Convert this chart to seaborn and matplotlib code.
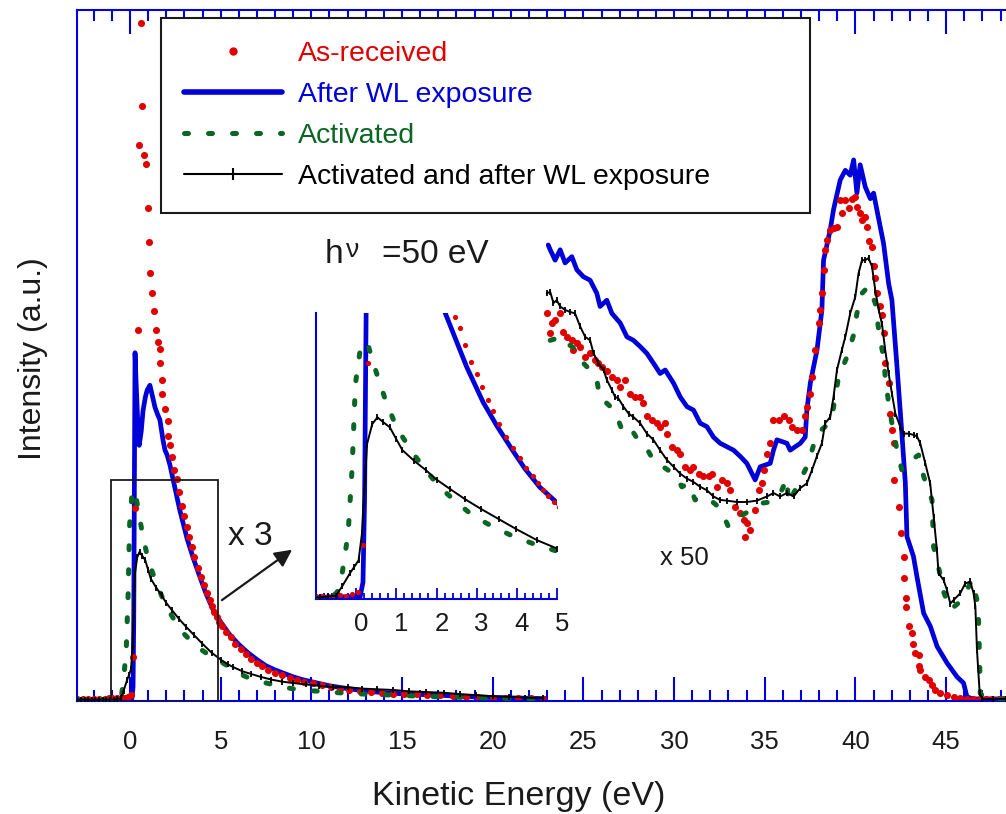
import numpy as np
import pandas as pd
import seaborn as sns
import matplotlib.pyplot as plt
from matplotlib.lines import Line2D
from matplotlib.patches import Rectangle
from matplotlib.ticker import MultipleLocator
from matplotlib.transforms import ScaledTranslation

# Kinetic energy (eV) and intensity (a.u., main-axis scale, 0-100)
# low-energy part, drawn as measured
red_lo_x = [-2.9, -2.6, -2.3, -2.0, -1.7, -1.4, -1.15, -1.0, -0.85, -0.7,
            -0.55, -0.4, -0.25, -0.1, 0.05, 0.17, 0.3, 0.44, 0.5, 0.59,
            0.65, 0.8, 0.9, 0.99, 1.05, 1.12, 1.22, 1.32, 1.43, 1.55,
            1.65, 1.66, 1.77, 1.78, 1.93, 2.08, 2.1, 2.2, 2.32, 2.45,
            2.58, 2.72, 2.87, 3.0, 3.13, 3.27, 3.4, 3.55, 3.74, 3.9,
            4.07, 4.24, 4.4, 4.52, 4.64, 4.78, 4.92, 5.06, 5.3, 5.55,
            5.8, 6.1, 6.4, 6.7, 7.0, 7.3, 7.6, 8.0, 8.4, 8.8,
            9.2, 9.6, 10.1, 10.6, 11.1, 11.6, 12.1, 12.7, 13.3, 13.9,
            14.5, 15.1, 15.8, 16.4, 17.1, 17.8, 18.5, 19.2, 20.0, 20.7,
            21.4, 22.1, 22.8]
red_lo_y = [0.3, 0.3, 0.3, 0.3, 0.3, 0.3, 0.4, 0.4, 0.3, 0.4,
            0.3, 0.5, 0.4, 0.6, 0.8, 6.4, 28, 53.7, 80.5, 98.1,
            86.1, 79, 77.7, 71.3, 66.4, 62, 59, 56.5, 53.7, 52,
            51, 48.9, 46.5, 44.4, 42.3, 40.5, 38.4, 37, 35.3, 33.5,
            32.2, 30.2, 28.2, 26.8, 25.2, 23.7, 22.3, 20.8, 19.2, 18,
            16.8, 15.6, 14.6, 13.8, 12.9, 12.2, 11.5, 10.9, 10.0, 9.2,
            8.3, 7.5, 6.8, 6.1, 5.5, 5.0, 4.5, 4.1, 3.7, 3.3,
            3.0, 2.8, 2.6, 2.3, 2.0, 1.8, 1.6, 1.4, 1.25, 1.15,
            1.05, 1.0, 0.95, 0.9, 0.8, 0.7, 0.62, 0.55, 0.45, 0.42,
            0.4, 0.37, 0.35]

blue_lo_x = [-2.9, -1.0, 0.1, 0.17, 0.21, 0.25, 0.28, 0.34, 0.42, 0.51,
             0.62, 0.72, 0.85, 0.95, 1.1, 1.25, 1.38, 1.52, 1.65, 1.82,
             1.93, 2.05, 2.2, 2.45, 2.75, 3.16, 3.5, 3.89, 4.2, 4.57,
             5.01, 5.5, 6.0, 6.5, 7.0, 7.5, 8.0, 8.5, 9.0, 9.5,
             10.0, 11.0, 12.0, 13.0, 14.0, 15.0, 16.0, 17.0, 18.0, 19.0,
             20.0, 21.0, 22.0, 22.9]
blue_lo_y = [0.2, 0.2, 0.3, 2.0, 12, 35, 50.4, 46, 41, 37,
             39, 42, 44, 45, 45.7, 44, 42.5, 41.5, 40.7, 37.8,
             36.3, 35.6, 34.2, 31.2, 27.6, 23.4, 20.6, 17.7, 15.5, 13.3,
             11.4, 9.6, 8.2, 7.0, 6.0, 5.1, 4.5, 4.0, 3.5, 3.1,
             2.8, 2.2, 1.8, 1.45, 1.2, 1.05, 0.95, 0.85, 0.7, 0.6,
             0.5, 0.45, 0.4, 0.35]

green_lo_x = [-2.9, -1.0, -0.6, -0.47, -0.35, -0.2, -0.1, -0.02, 0.1, 0.27,
              0.4, 0.55, 0.72, 0.92, 1.15, 1.42, 1.75, 2.08, 2.5, 2.91,
              3.4, 3.89, 4.45, 5.06, 5.5, 5.9, 6.5, 7.2, 8.0, 8.7,
              9.4, 10.5, 11.5, 12.5, 13.5, 14.5, 15.5, 16.5, 17.5, 18.5,
              19.5, 20.5, 21.5, 22.8]
green_lo_y = [0.2, 0.2, 0.3, 0.8, 3.0, 7.8, 15.6, 25.5, 29.6, 30.6,
              28.5, 26.2, 23.8, 21.4, 19.3, 17.3, 15.2, 13.3, 11.5, 9.9,
              8.6, 7.5, 6.5, 5.6, 4.9, 4.1, 3.4, 2.8, 2.3, 1.9,
              1.6, 1.4, 1.2, 1.05, 0.95, 0.85, 0.75, 0.65, 0.6, 0.5,
              0.45, 0.4, 0.35, 0.3]

black_lo_x = [-2.9, -2.7, -2.5, -2.3, -2.1, -1.9, -1.7, -1.5, -1.3, -1.1,
              -0.9, -0.7, -0.5, -0.35, -0.15, -0.05, 0.06, 0.145, 0.2, 0.27,
              0.4, 0.53, 0.68, 0.84, 1.0, 1.15, 1.45, 1.74, 2.0, 2.33,
              2.7, 3.11, 3.55, 3.99, 4.5, 5.0, 5.4, 5.7, 6.2, 6.7,
              7.2, 7.8, 8.4, 9.0, 9.7, 10.4, 11.2, 12.0, 12.8, 13.6,
              14.5, 15.4, 16.3, 17.3, 18.2, 19.1, 20.0, 20.9, 21.8, 22.8]
black_lo_y = [0.2, 0.2, 0.2, 0.2, 0.2, 0.2, 0.2, 0.2, 0.2, 0.2,
              0.2, 0.3, 0.4, 1.5, 3.1, 3.8, 4.6, 7.8, 12.5, 18.4,
              20.8, 21.6, 21.0, 20.4, 19.0, 17.7, 16.4, 15.3, 14.2, 13.1,
              11.9, 10.7, 9.5, 8.3, 7.0, 6.0, 5.3, 4.9, 4.3, 3.9,
              3.5, 3.1, 2.8, 2.6, 2.4, 2.2, 2.0, 2.0, 1.8, 1.7,
              1.6, 1.4, 1.3, 1.2, 1.0, 0.85, 0.7, 0.6, 0.5, 0.4]

# high-energy part, shown magnified x 50
blue_hi_x = [23.06, 23.17, 23.44, 23.72, 23.99, 24.36, 24.64, 25.0, 25.37, 25.74,
             25.92, 26.29, 26.57, 27.03, 27.4, 27.76, 28.13, 28.5, 28.86, 29.23,
             29.51, 29.97, 30.34, 30.71, 31.07, 31.44, 31.81, 32.17, 32.54, 32.91,
             33.28, 33.65, 34.01, 34.47, 34.75, 35.3, 35.48, 35.67, 36.22, 36.4,
             36.96, 37.23, 37.32, 37.51, 37.88, 38.15, 38.24, 38.61, 38.79, 39.16,
             39.44, 39.71, 39.9, 40.08, 40.26, 40.54, 40.82, 41.0, 41.18, 41.55,
             41.83, 42.01, 42.29, 42.56, 42.75, 42.84, 43.2, 43.39, 43.76, 44.13,
             44.5, 45.05, 45.6, 45.96, 46.15, 46.5, 47.5, 48.3]
blue_hi_y = [66.0, 65.3, 63.8, 65.3, 63.4, 64.3, 62.4, 61.4, 60.9, 59.0,
             57.1, 58.0, 56.1, 54.7, 52.7, 52.2, 51.3, 50.3, 48.9, 47.4,
             47.9, 46.0, 44.0, 42.6, 42.1, 40.2, 39.7, 38.2, 37.3, 36.8,
             36.3, 35.4, 34.4, 32.0, 33.9, 34.4, 36.3, 37.8, 37.3, 36.3,
             37.3, 38.2, 42.1, 46.0, 50.8, 56.6, 63.8, 68.2, 71.1, 75.4,
             76.8, 76.1, 78.3, 73.5, 77.6, 74.4, 72.7, 73.5, 71.1, 66.2,
             60.4, 58.0, 48.4, 38.7, 31.5, 23.8, 20.9, 18.0, 12.7, 10.8,
             7.9, 5.5, 3.5, 2.6, 0.6, 0.3, 0.3, 0.3]

red_hi_x = [22.98, 23.26, 23.17, 23.44, 23.72, 23.90, 24.08, 24.36, 24.45, 24.64,
            24.82, 25.1, 25.37, 25.65, 25.83, 26.02, 26.29, 26.57, 26.84, 27.03,
            27.3, 27.58, 27.85, 28.13, 28.31, 28.5, 28.77, 29.05, 29.23, 29.51,
            29.6, 29.88, 30.15, 30.34, 30.61, 30.89, 31.07, 31.35, 31.62, 31.9,
            32.08, 32.36, 32.63, 32.91, 33.09, 33.37, 33.65, 33.83, 34.01, 34.2,
            33.92, 34.47, 34.66, 34.84, 34.93, 35.12, 35.3, 35.48, 35.76, 36.04,
            36.31, 36.5, 36.77, 37.05, 37.23, 37.32, 37.51, 37.6, 37.78, 37.97,
            38.06, 38.15, 38.24, 38.33, 38.43, 38.61, 38.8, 38.98, 39.16, 39.25,
            39.44, 39.62, 39.8, 39.99, 40.08, 40.26, 40.36, 40.54, 40.63, 40.72,
            40.91, 41.0, 41.09, 41.18, 41.37, 41.46, 41.55, 41.64, 41.83, 41.92,
            42.01, 42.1, 42.1, 42.38, 42.51, 42.65, 42.65, 42.78, 42.78, 42.93,
            43.11, 43.2, 43.3, 43.48, 43.48, 43.57, 43.85, 44.03, 44.22, 44.4,
            44.68, 45.04, 45.41, 45.78, 46.15, 46.5, 46.85, 47.2, 47.55, 47.9,
            48.2]
red_hi_y = [56.1, 54.7, 53.2, 55.1, 56.1, 53.4, 52.7, 52.2, 50.8, 51.8,
            51.3, 49.8, 50.3, 49.3, 48.9, 48.4, 47.7, 46.9, 46.5, 45.5,
            46.5, 44.5, 44.0, 44.0, 43.1, 41.2, 40.7, 40.2, 39.7, 40.2,
            38.7, 36.8, 36.3, 35.8, 33.9, 33.4, 33.9, 32.9, 32.5, 32.5,
            32.9, 31.0, 32.0, 31.5, 30.5, 28.1, 27.2, 26.2, 25.7, 24.7,
            23.8, 27.6, 30.5, 31.5, 33.4, 35.8, 37.3, 40.7, 40.7, 41.2,
            40.7, 39.7, 39.2, 39.2, 41.2, 42.6, 44.5, 46.9, 50.8, 54.7,
            56.6, 59.0, 62.4, 65.3, 66.7, 68.2, 68.4, 68.6, 72.5, 70.6,
            72.5, 71.3, 72.7, 73.0, 71.5, 70.6, 69.6, 70.1, 68.6, 66.5,
            65.7, 62.9, 61.2, 59.0, 57.1, 55.9, 53.2, 48.9, 46.0, 41.6,
            39.2, 37.3, 32.0, 28.1, 24.3, 20.9, 17.8, 14.9, 13.6, 10.8,
            9.8, 8.3, 6.9, 6.7, 5.0, 4.5, 3.5, 3.0, 2.3, 1.6,
            1.1, 0.9, 0.6, 0.4, 0.3, 0.3, 0.3, 0.3, 0.3, 0.3,
            0.3]

black_hi_x = [22.98, 23.17, 23.35, 23.53, 23.72, 23.99, 24.27, 24.54, 24.82, 25.1,
              25.37, 25.56, 25.83, 26.11, 26.29, 26.57, 26.75, 26.93, 27.21, 27.49,
              27.76, 28.13, 28.5, 28.86, 29.23, 29.6, 29.97, 30.34, 30.7, 31.07,
              31.44, 31.81, 32.17, 32.54, 32.91, 33.46, 34.01, 34.56, 35.12, 35.48,
              35.85, 36.22, 36.59, 36.95, 37.32, 37.6, 37.87, 38.15, 38.33, 38.61,
              38.79, 38.98, 39.25, 39.44, 39.71, 39.99, 40.17, 40.36, 40.54, 40.72,
              40.91, 41.09, 41.28, 41.46, 41.64, 41.83, 42.01, 42.2, 42.47, 42.65,
              42.93, 43.21, 43.39, 43.57, 43.85, 44.12, 44.31, 44.49, 44.58, 44.86,
              45.04, 45.23, 45.41, 45.78, 46.05, 46.33, 46.51, 46.61, 46.7, 46.85,
              47.0, 47.6, 48.3]
black_hi_y = [59.0, 59.2, 57.6, 58.0, 57.1, 56.6, 56.3, 56.1, 54.2, 52.7,
              52.2, 50.3, 48.9, 47.9, 46.5, 45.0, 44.0, 43.8, 42.6, 41.6,
              41.1, 40.2, 38.7, 37.8, 36.3, 34.9, 33.9, 32.9, 32.2, 31.7,
              31.0, 30.5, 29.6, 29.1, 29.0, 28.8, 28.8, 29.0, 29.6, 30.1,
              29.6, 30.1, 29.6, 30.8, 31.5, 33.4, 35.4, 37.3, 40.2, 41.1,
              44.0, 47.9, 50.8, 52.7, 56.1, 58.5, 61.9, 63.8, 63.8, 64.1,
              62.9, 59.5, 56.6, 54.6, 50.8, 47.4, 44.5, 41.6, 39.7, 38.7,
              38.7, 38.5, 38.3, 37.3, 34.4, 31.5, 26.7, 21.9, 18.5, 17.5,
              16.1, 14.1, 14.6, 15.6, 17.0, 17.3, 15.6, 13.7, 7.4, 1.1,
              0.3, 0.3, 0.3]

green_hi_x = [23.17, 23.81, 24.08, 24.64, 25.0, 25.37, 25.74, 25.92, 26.29, 26.57,
              26.84, 27.21, 27.67, 28.13, 28.59, 28.96, 29.51, 30.06, 30.43, 30.8,
              31.16, 31.62, 31.99, 32.54, 33.0, 33.65, 34.2, 34.75, 35.3, 35.85,
              36.22, 36.31, 36.86, 37.32, 37.51, 37.87, 38.33, 38.7, 39.07, 39.53,
              39.9, 40.08, 40.36, 40.72, 41.09, 41.18, 41.37, 41.55, 41.64, 41.83,
              42.01, 42.29, 42.56, 42.84, 43.48, 43.76, 44.22, 44.31, 44.58, 44.86,
              45.23, 45.87, 46.42, 46.7, 46.79, 46.85, 46.88, 47.2, 47.8, 48.3]
green_hi_y = [52.2, 52.7, 51.8, 50.8, 48.9, 47.9, 46.5, 43.6, 43.1, 42.4,
              41.2, 38.7, 39.2, 37.3, 36.1, 34.4, 33.7, 32.7, 31.0, 31.5,
              29.1, 29.6, 29.1, 27.9, 25.2, 26.7, 27.6, 28.6, 28.8, 30.0,
              32.2, 28.6, 31.5, 33.9, 35.4, 38.7, 39.7, 41.1, 46.9, 49.8,
              53.0, 56.1, 59.0, 60.0, 57.6, 55.6, 52.2, 49.8, 46.9, 43.1,
              40.2, 36.3, 33.4, 34.4, 35.6, 32.5, 29.1, 22.3, 19.4, 15.8,
              13.2, 14.6, 17.5, 14.6, 11.5, 5.0, 1.1, 0.3, 0.3, 0.3]

labels = ["As-received", "After WL exposure", "Activated",
          "Activated and after WL exposure"]

RED = "#e00000"
BLUE = "#0000d8"
GREEN = "#0b6623"
BLACK = "#000000"
AXBLUE = "#0000dd"
DOTS = (0, (0.8, 4.0))

sns.set_theme(style="white")
plt.rcParams['font.family'] = ['Liberation Sans', 'DejaVu Sans']
plt.rcParams['text.color'] = 'black'
plt.rcParams['axes.labelcolor'] = 'black'

fig = plt.figure(figsize=(10.06, 8.14), dpi=100)
ax = fig.add_axes([0.0769, 0.1388, 0.9231, 0.8489])
axi = fig.add_axes([0.3141, 0.2641, 0.2396, 0.3514])
axi.patch.set_alpha(0)


def draw_series(a, xs_b, ys_b, xs_r, ys_r, xs_g, ys_g, xs_k, ys_k, small=False):
    sns.lineplot(x=xs_b, y=ys_b, ax=a, color=BLUE, lw=3.4, sort=False,
                 estimator=None, zorder=2)
    sns.scatterplot(x=xs_r, y=ys_r, ax=a, color=RED, s=14 if small else 26,
                    linewidth=0, zorder=2.5)
    sns.lineplot(x=xs_g, y=ys_g, ax=a, color=GREEN, lw=3.6, ls=DOTS,
                 dash_capstyle="round", sort=False, estimator=None, zorder=2.6)
    sns.lineplot(x=xs_k, y=ys_k, ax=a, color=BLACK, lw=1.4, marker="|",
                 ms=5, mec=BLACK, mew=1.3, sort=False, estimator=None, zorder=2.7)


# main panel: low-energy part and x50 part
draw_series(ax, blue_lo_x, blue_lo_y, red_lo_x, red_lo_y,
            green_lo_x, green_lo_y, black_lo_x, black_lo_y)
draw_series(ax, blue_hi_x, blue_hi_y, red_hi_x, red_hi_y,
            green_hi_x, green_hi_y, black_hi_x, black_hi_y)

ax.set_xlim(-2.9, 48.3)
ax.set_ylim(0, 100)
ax.set_xticks(range(0, 50, 5))
ax.xaxis.set_minor_locator(MultipleLocator(1))
ax.set_yticks([])
ax.tick_params(axis="x", which="both", direction="in", top=True, bottom=True,
               color=AXBLUE, width=1.5, labelsize=18.5, labelcolor="k", pad=21)
ax.tick_params(axis="x", which="major", length=17)
ax.tick_params(axis="x", which="minor", length=8)
for side in ["left", "bottom", "top"]:
    ax.spines[side].set_color(AXBLUE)
    ax.spines[side].set_linewidth(1.5)
ax.spines["right"].set_visible(False)

ax.set_xlabel("Kinetic Energy (eV)", fontsize=24.5, va="top", color="k")
ax.xaxis.set_label_coords(0.4752, -0.116)
ax.set_ylabel("Intensity (a.u.)", fontsize=23, color="k")
ax.yaxis.set_label_coords(-0.032, 0.496)

# zoom box, arrow and annotations
ax.add_patch(Rectangle((-1.05, 0), 5.9, 32, fill=False, ec="k", lw=1.3, zorder=3))
ax.annotate("", xy=(8.94, 21.9), xytext=(5.07, 14.6),
            arrowprops=dict(arrowstyle="-|>", color="k", lw=1.6,
                            mutation_scale=26, shrinkA=0, shrinkB=0))
ax.text(5.4, 22.6, "x 3", fontsize=24, va="baseline", ha="left", color="k")
ax.text(29.23, 19.7, "x 50", fontsize=18.5, va="baseline", ha="left", color="k")
ax.text(10.76, 63.4, "h", fontsize=24, va="baseline", ha="left", color="k")
ax.text(12.3, 64.3, "\u03bd", fontsize=19, va="baseline", ha="center", color="k")
ax.text(13.9, 63.4, "=50 eV", fontsize=24, va="baseline", ha="left", color="k")

# legend
handles = [Line2D([], [], color=RED, marker="o", ls="none", ms=6, mec="none"),
           Line2D([], [], color=BLUE, lw=4),
           Line2D([], [], color=GREEN, lw=3.6, ls=DOTS, dash_capstyle="round"),
           Line2D([], [], color=BLACK, lw=1.5, marker="|", ms=8, mew=1.5)]
leg = ax.legend(handles, labels, loc="upper left",
                bbox_to_anchor=(0.090, 0.712, 0.699, 0.2764), mode="expand",
                borderaxespad=0, fontsize=20.5, numpoints=1, handlelength=3.45,
                handletextpad=0.55, labelspacing=0.53, borderpad=0.8,
                fancybox=False, framealpha=1, edgecolor="k")
leg.get_frame().set_linewidth(1.5)
for txt, col in zip(leg.get_texts(), [RED, BLUE, GREEN, BLACK]):
    txt.set_color(col)

# inset: magnified view of the 0-5 eV region
draw_series(axi, blue_lo_x, blue_lo_y, red_lo_x, red_lo_y,
            green_lo_x, green_lo_y, black_lo_x, black_lo_y, small=True)
axi.set_xlim(-1, 5)
axi.set_ylim(0, 34)
axi.set_xticks(range(0, 6))
axi.xaxis.set_minor_locator(MultipleLocator(0.2))
axi.set_yticks([])
axi.tick_params(axis="x", which="both", direction="in", top=False, bottom=True,
                color=AXBLUE, width=1.3, labelsize=18.5, labelcolor="k", pad=9)
axi.tick_params(axis="x", which="major", length=8)
axi.tick_params(axis="x", which="minor", length=4.3)
for side in ["left", "bottom"]:
    axi.spines[side].set_color(AXBLUE)
    axi.spines[side].set_linewidth(1.5)
for side in ["top", "right"]:
    axi.spines[side].set_visible(False)
axi.set_xlabel("")
axi.set_ylabel("")
shift = ScaledTranslation(5 / 100, 0, fig.dpi_scale_trans)
for lab in axi.get_xticklabels():
    lab.set_transform(lab.get_transform() + shift)

fig.savefig("out.png", dpi=100)
